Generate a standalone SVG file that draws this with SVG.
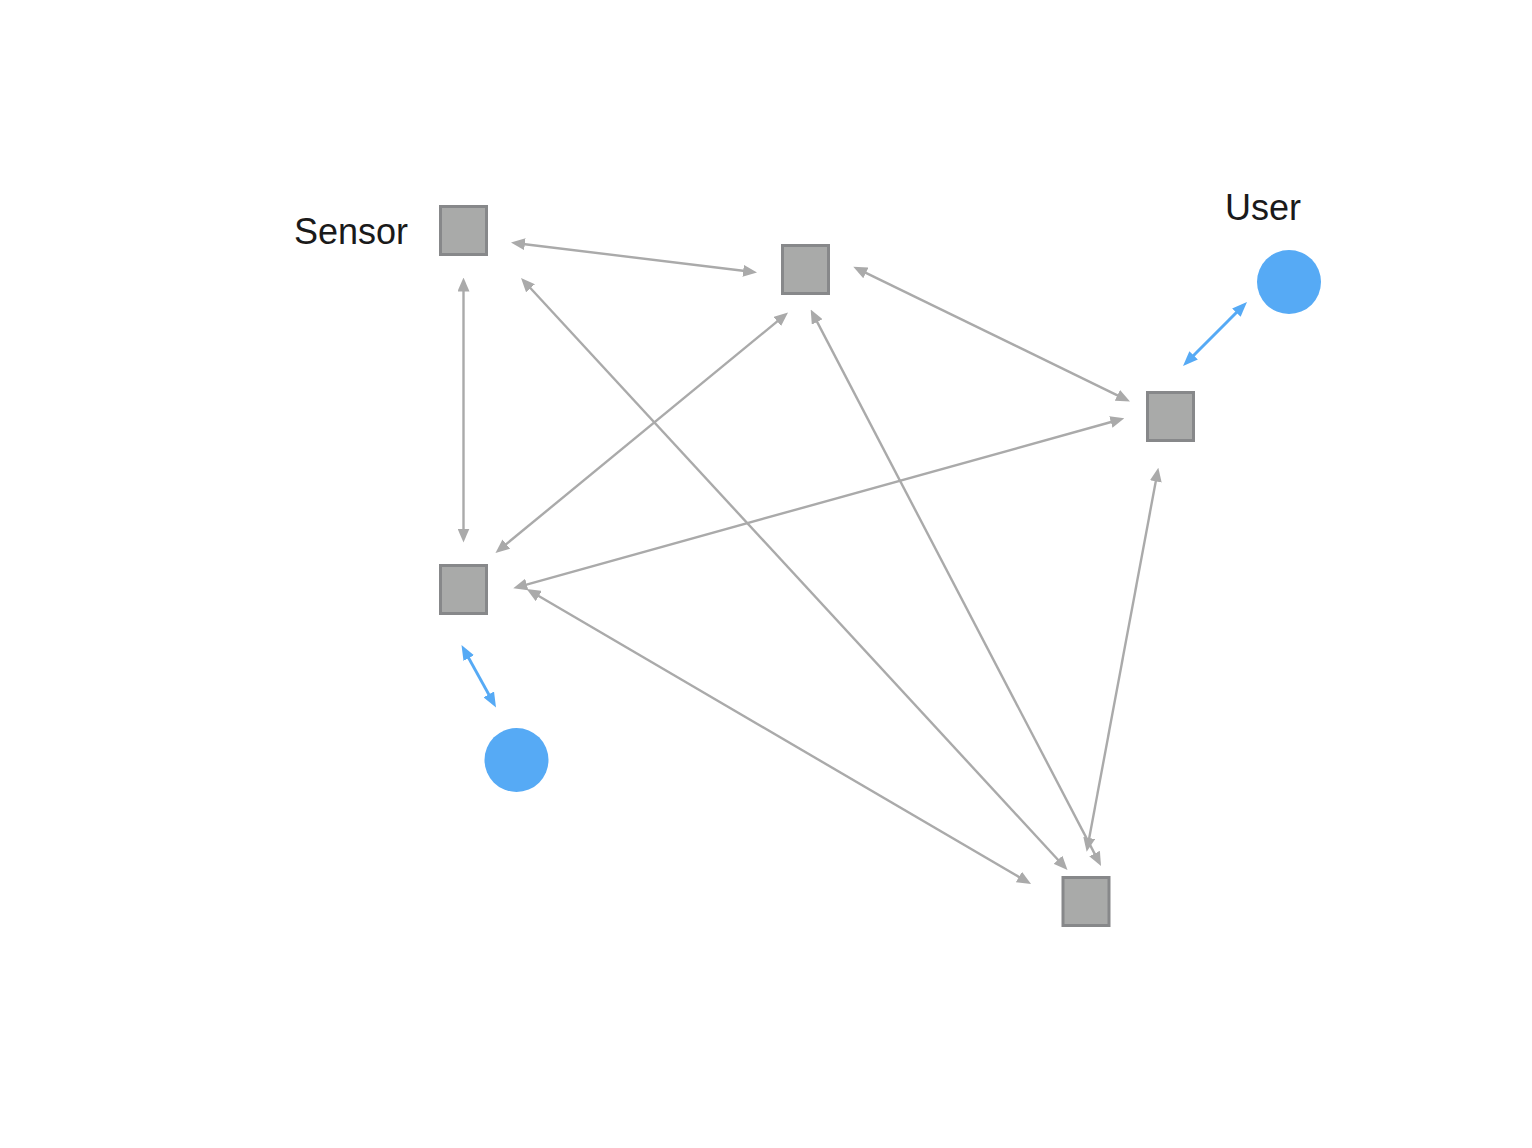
<svg xmlns="http://www.w3.org/2000/svg" width="1532" height="1148" viewBox="0 0 1532 1148">
<style>
.sq{fill:#a9aaa9;stroke:#87888a;stroke-width:3}
.user{fill:#56aaf5}
.g{stroke:#aaaaaa;stroke-width:2.4;fill:none;marker-start:url(#ag);marker-end:url(#ag)}
.b{stroke:#56aaf5;stroke-width:3;fill:none;marker-start:url(#ab);marker-end:url(#ab)}
.lbl{font-family:"Liberation Sans",Arial,sans-serif;font-size:36px;fill:#1a1a1a}
</style>
<defs>
<marker id="ag" markerUnits="userSpaceOnUse" markerWidth="14" markerHeight="12" refX="4" refY="6" orient="auto-start-reverse" viewBox="0 0 14 12"><path d="M0,0 L14,6 L0,12 z" fill="#aaaaaa"/></marker>
<marker id="ab" markerUnits="userSpaceOnUse" markerWidth="15" markerHeight="12" refX="4" refY="6" orient="auto-start-reverse" viewBox="0 0 15 12"><path d="M0,0 L15,6 L0,12 z" fill="#56aaf5"/></marker>
</defs>
<rect width="1532" height="1148" fill="#ffffff"/>
<g id="connectors">
<line class="g" x1="520.9" y1="243.7" x2="747.1" y2="271.3"/>
<line class="g" x1="463.5" y1="287.5" x2="463.5" y2="532.5"/>
<line class="g" x1="527.8" y1="285.3" x2="1060.7" y2="862.7"/>
<line class="g" x1="780.3" y1="318.9" x2="503.2" y2="546.6"/>
<line class="g" x1="862.3" y1="271.1" x2="1121" y2="397.1"/>
<line class="g" x1="815.3" y1="318.4" x2="1096.4" y2="857.1"/>
<line class="g" x1="1114.7" y1="421" x2="522.9" y2="585.6"/>
<line class="g" x1="1156.5" y1="477.5" x2="1088.5" y2="841.9"/>
<line class="g" x1="535.3" y1="594" x2="1022.4" y2="879"/>
<line class="b" x1="1239.2" y1="309.8" x2="1190.8" y2="358.2"/>
<line class="b" x1="466.8" y1="654.6" x2="490.7" y2="697.9"/>
</g>
<g id="sensor">
<rect class="sq" x="440.5" y="206.5" width="46" height="48"/>
<text class="lbl" x="408" y="244" text-anchor="end">Sensor</text>
</g>
<g id="node2"><rect class="sq" x="782.5" y="245.5" width="46" height="48"/></g>
<g id="node3"><rect class="sq" x="1147.5" y="392.5" width="46" height="48"/></g>
<g id="node4"><rect class="sq" x="440.5" y="565.5" width="46" height="48"/></g>
<g id="node5"><rect class="sq" x="1063" y="877.5" width="46" height="48"/></g>
<g id="user1">
<circle class="user" cx="1289" cy="282" r="32"/>
<text class="lbl" x="1225" y="220">User</text>
</g>
<g id="user2"><circle class="user" cx="516.5" cy="760" r="32"/></g>
</svg>
